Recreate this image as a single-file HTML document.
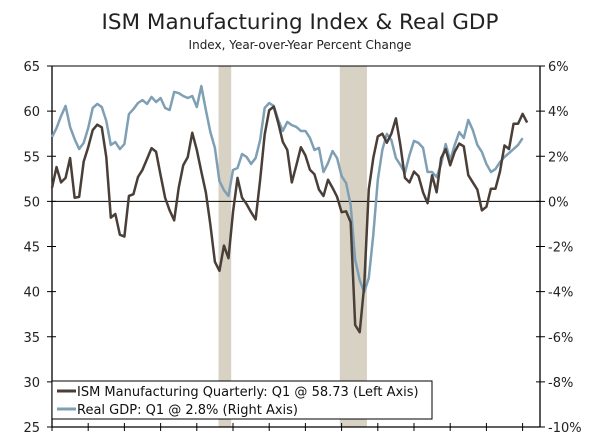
<!DOCTYPE html>
<html><head><meta charset="utf-8"><style>
body{margin:0;background:#fff;}
svg{display:block;font-family:"DejaVu Sans","Liberation Sans",sans-serif;}
</style></head><body>
<svg id="chart" width="600" height="448" viewBox="0 0 600 448">
<text x="300" y="29" text-anchor="middle" font-size="21.5" fill="#222">ISM Manufacturing Index &amp; Real GDP</text>
<text x="300" y="49" text-anchor="middle" font-size="12" fill="#222">Index, Year-over-Year Percent Change</text>
<g id="rec"></g>
<g id="axes"></g>
<g id="lines"></g>
<g>
<rect x="52" y="381" width="380" height="38" fill="#fff" stroke="#000" stroke-width="1"/>
<line x1="57" y1="391" x2="76" y2="391" stroke="#4a3f38" stroke-width="3"/>
<text x="77" y="396" font-size="13" fill="#111">ISM Manufacturing Quarterly: Q1 @ 58.73 (Left Axis)</text>
<line x1="57" y1="409" x2="76" y2="409" stroke="#7f9fb5" stroke-width="3"/>
<text x="77" y="414" font-size="13" fill="#111">Real GDP: Q1 @ 2.8% (Right Axis)</text>
</g>
</svg>
<script>
const ismValues=[51.5,53.8,52.1,52.6,54.8,50.4,50.5,54.4,56.0,57.9,58.5,58.2,54.9,48.2,48.6,46.3,46.1,50.6,50.8,52.7,53.5,54.7,55.9,55.5,52.9,50.4,49.0,47.9,51.5,
54.0,54.9,57.6,55.7,53.3,51.0,47.4,43.3,42.3,45.1,43.7,48.8,52.6,
50.4,49.7,48.8,48.0,52.4,57.4,60.1,60.5,58.7,56.6,55.7,52.1,54.0,56.0,
55.1,53.5,53.0,51.3,50.6,52.4,51.5,50.5,48.8,48.9,47.7,36.3,35.5,40.7,51.3,54.8,57.2,57.5,56.5,57.5,59.2,56.2,52.6,52.1,53.3,52.8,
51.0,49.8,52.9,51.0,54.8,55.8,54.0,55.5,56.4,56.1,52.9,52.1,51.3,49.0,49.4,51.4,51.4,53.3,56.2,55.8,58.6,58.6,59.7,58.73];
const gdpValues=[2.85,3.25,3.78,4.23,3.30,2.76,2.32,2.59,3.25,4.14,4.32,4.18,3.56,2.50,2.63,2.32,2.54,3.87,4.09,4.36,4.49,4.32,4.63,4.40,4.58,4.14,4.05,4.85,4.80,4.67,4.58,4.67,4.18,5.11,4.05,3.07,2.37,0.90,0.50,0.24,1.39,1.48,2.10,1.97,1.66,1.92,2.72,4.14,4.36,4.23,3.61,3.12,3.52,3.38,3.30,3.12,3.12,2.81,2.28,2.37,1.30,1.70,2.23,1.92,1.12,0.81,-0.16,-2.60,-3.49,-4.02,-3.40,-1.49,0.95,2.28,2.99,2.72,1.92,1.61,1.26,2.05,2.68,2.59,2.37,1.30,1.30,1.08,1.66,2.54,1.83,2.50,3.07,2.81,3.61,3.16,2.50,2.19,1.66,1.30,1.43,1.74,1.97,2.14,2.32,2.50,2.80];
const leftTicks=[25,30,35,40,45,50,55,60,65];
const rightTicks=[-10,-8,-6,-4,-2,0,2,4,6];
const yearTicks=[1992,1994,1996,1998,2000,2002,2004,2006,2008,2010,2012,2014,2016,2018];
const recessionStarts=[2001.2,2007.9];
const recessionEnds=[2001.9,2009.4];

const X0=52,X1=540,Y0=66,Y1=427;
const xYear=t=>X0+(t-1992)*18.1;
const xQ=i=>X0+i*4.525;
const yL=v=>Y0+(65-v)*(Y1-Y0)/40;
const yR=v=>Y0+(6-v)*(Y1-Y0)/16;
const NS="http://www.w3.org/2000/svg";
function mk(tag,attrs,parent){const e=document.createElementNS(NS,tag);for(const k in attrs)e.setAttribute(k,attrs[k]);parent.appendChild(e);return e;}
const rec=document.getElementById('rec'),axes=document.getElementById('axes'),lines=document.getElementById('lines');
recessionStarts.forEach((s,i)=>{
  const r=mk('rect',{x:xYear(s),y:Y0,width:xYear(recessionEnds[i])-xYear(s),height:Y1-Y0,fill:'#d8d2c4'},rec);
  
  
});
let l=mk('line',{x1:X0,y1:Y0,x2:X1,y2:Y0,stroke:'#000','stroke-width':1},axes);
l=mk('line',{x1:X0,y1:Y0,x2:X0,y2:Y1,stroke:'#000','stroke-width':1.3},axes);


l=mk('line',{x1:X1,y1:Y0,x2:X1,y2:Y1,stroke:'#000','stroke-width':1.3},axes);


l=mk('line',{x1:X0,y1:Y1,x2:X1,y2:Y1,stroke:'#000','stroke-width':1.3},axes);


l=mk('line',{x1:X0,y1:yL(50),x2:X1,y2:yL(50),stroke:'#000','stroke-width':1},axes);


leftTicks.forEach(v=>{
  const y=yL(v);
  mk('line',{x1:X0-5,y1:y,x2:X0+4,y2:y,stroke:'#000','stroke-width':1},axes);
  const t=mk('text',{x:X0-12,y:y+5,'text-anchor':'end','font-size':13,fill:'#222'},axes);
  t.textContent=v;
  
  
});
rightTicks.forEach(v=>{
  const y=yR(v);
  mk('line',{x1:X1-4,y1:y,x2:X1+5,y2:y,stroke:'#000','stroke-width':1},axes);
  const t=mk('text',{x:X1+8,y:y+5,'font-size':13,fill:'#222'},axes);
  t.textContent=v+'%';
  
  
});
yearTicks.forEach(v=>{
  const x=xYear(v);
  const k=mk('line',{x1:x,y1:Y1-4,x2:x,y2:Y1+4,stroke:'#000','stroke-width':1},axes);
  
  
});
const gp=mk('polyline',{points:gdpValues.map((v,i)=>xQ(i)+','+yR(v)).join(' '),fill:'none',stroke:'#7f9fb5','stroke-width':2.5,'stroke-linejoin':'round'},lines);


const ip=mk('polyline',{points:ismValues.map((v,i)=>xQ(i)+','+yL(v)).join(' '),fill:'none',stroke:'#4a3f38','stroke-width':2.5,'stroke-linejoin':'round'},lines);


</script>
</body></html>
